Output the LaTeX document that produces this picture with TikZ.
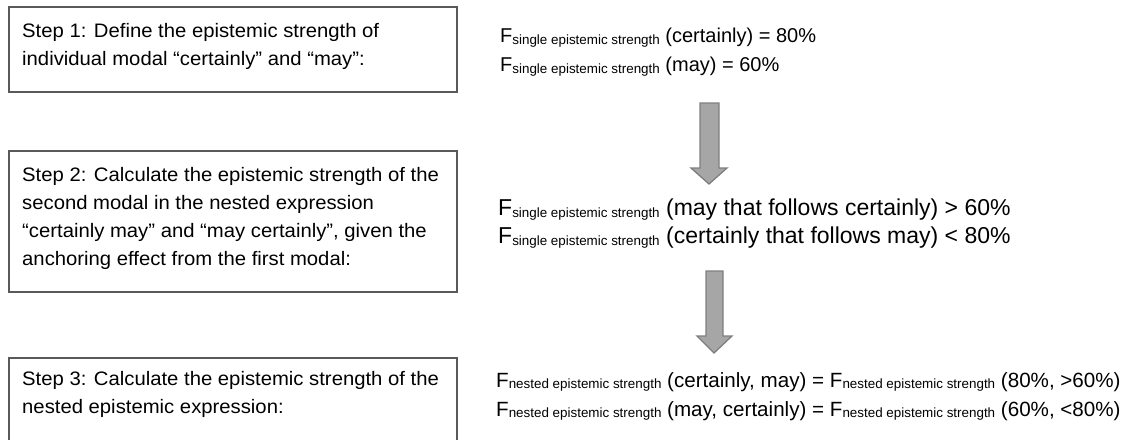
\documentclass[tikz,border=0pt]{standalone}
\usepackage{fontspec}
\setmainfont{Liberation Sans}
\newfontfamily\stepfont[FakeStretch=1.04]{Liberation Sans}
\usetikzlibrary{calc}

% F with a small lowered index, as in F_{single epistemic strength}
\newcommand{\epF}[1]{F\raisebox{-1.5pt}{\fontsize{13.4}{14}\selectfont #1}}

\definecolor{boxline}{HTML}{595959}
\definecolor{arrowfill}{HTML}{A6A6A6}
\definecolor{arrowline}{HTML}{7F7F7F}

\tikzset{
  stepbox/.style={draw=boxline, line width=1.4pt},
  steptext/.style={anchor=north west, inner sep=0pt, align=left,
    font=\stepfont\fontsize{19.5}{28}\selectfont},
  formula/.style={anchor=north west, inner sep=0pt, align=left,
    font=\fontsize{20}{29}\selectfont},
  bigformula/.style={formula, font=\fontsize{23}{28}\selectfont},
  nestformula/.style={formula, font=\fontsize{20.6}{29}\selectfont},
  blockarrow/.style={fill=arrowfill, draw=arrowline, line width=1.3pt, line join=miter}
}

\begin{document}
\begin{tikzpicture}[x=1pt,y=-1pt]
\useasboundingbox (0,0) rectangle (1129,439);

% step boxes (the third runs past the lower edge)
\draw[stepbox] (9,7) rectangle (457,92);
\draw[stepbox] (9,151) rectangle (457,292);
\draw[stepbox] (9,358) rectangle (457,460);

% step descriptions
\node[steptext] (s1) at (22,23) {Step 1: Define the epistemic strength of\\
individual modal “certainly” and “may”:};
\node[steptext] (s2) at (22,167) {Step 2: Calculate the epistemic strength of the\\
second modal in the nested expression\\
“certainly may” and “may certainly”, given the\\
anchoring effect from the first modal:};
\node[steptext] (s3) at (22,371) {Step 3: Calculate the epistemic strength of the\\
nested epistemic expression:};

% formulas
\node[formula] (f1) at (500,28) {\epF{single epistemic strength} (certainly) = 80\%\\
\epF{single epistemic strength} (may) = 60\%};
\node[bigformula] (f2) at (498,199) {\epF{single epistemic strength} (may that follows certainly) > 60\%\\
\epF{single epistemic strength} (certainly that follows may) < 80\%};
\node[nestformula] (f3) at (496,372) {\epF{nested epistemic strength} (certainly, may) = \epF{nested epistemic strength} (80\%, >60\%)\\
\epF{nested epistemic strength} (may, certainly) = \epF{nested epistemic strength} (60\%, <80\%)};

% block arrows between the formulas
\draw[blockarrow] (700,103) -- (719,103) -- (719,168) -- (727,168) -- (709,184)
  -- (691,168) -- (700,168) -- cycle;
\draw[blockarrow] (706,271) -- (723,271) -- (723,336) -- (732,336) -- (714,353)
  -- (697,336) -- (706,336) -- cycle;
\end{tikzpicture}
\end{document}
